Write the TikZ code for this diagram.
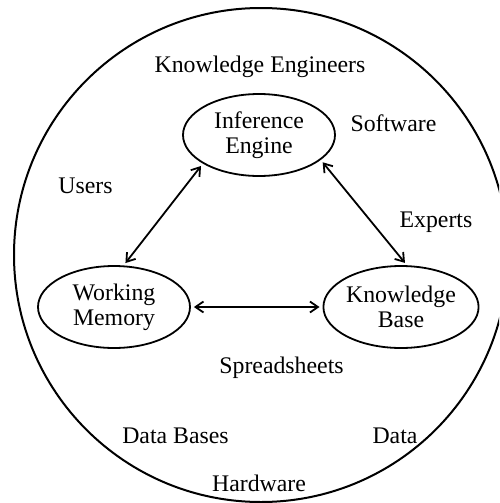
\documentclass[tikz,border=0pt]{standalone}
\usepackage{fontspec}
\setmainfont{Liberation Serif}
\usetikzlibrary{shapes.geometric, arrows.meta}

\tikzset{
  part/.style={ellipse, draw, line width=0.9pt, minimum width=76pt, minimum height=41pt, inner sep=0pt, align=center},
  link/.style={{Straight Barb[length=4pt,width=5.5pt]}-{Straight Barb[length=4pt,width=5.5pt]}, line width=0.9pt, shorten <=1.5pt, shorten >=1.5pt},
}

\begin{document}
\begin{tikzpicture}[x=0.5pt, y=-0.5pt, font=\fontsize{11.9}{12.5}\selectfont]
\useasboundingbox (0, 0) rectangle (499, 503);
\clip (0, 0) rectangle (499, 503);
% outer circle
\draw [line width=1pt] (261, 255) circle [radius=123.5pt];
% ellipses
\node [part] (ie) at (259, 135) {Inference\\Engine};
\node [part] (wm) at (114, 307) {Working\\Memory};
\node [part] (kb) at (401, 307) {Knowledge\\Base};
% arrows
\draw [link] (wm.77) -- (ie.207);
\draw [link] (ie.338) -- (kb.82);
\draw [link] (wm.east) -- (kb.west);
%Text
\node [anchor=base] (eng) at (260, 72) {Knowledge Engineers};
\node [anchor=base] (soft) at (393.5, 131) {Software};
\node [anchor=base] (users) at (85.5, 193) {Users};
\node [anchor=base] (experts) at (436, 227) {Experts};
\node [anchor=base] (sheets) at (281.5, 373) {Spreadsheets};
\node [anchor=base] (dbases) at (175.5, 443) {Data Bases};
\node [anchor=base] (data) at (395, 443) {Data};
\node [anchor=base] (hard) at (259, 491) {Hardware};
\end{tikzpicture}
\end{document}
